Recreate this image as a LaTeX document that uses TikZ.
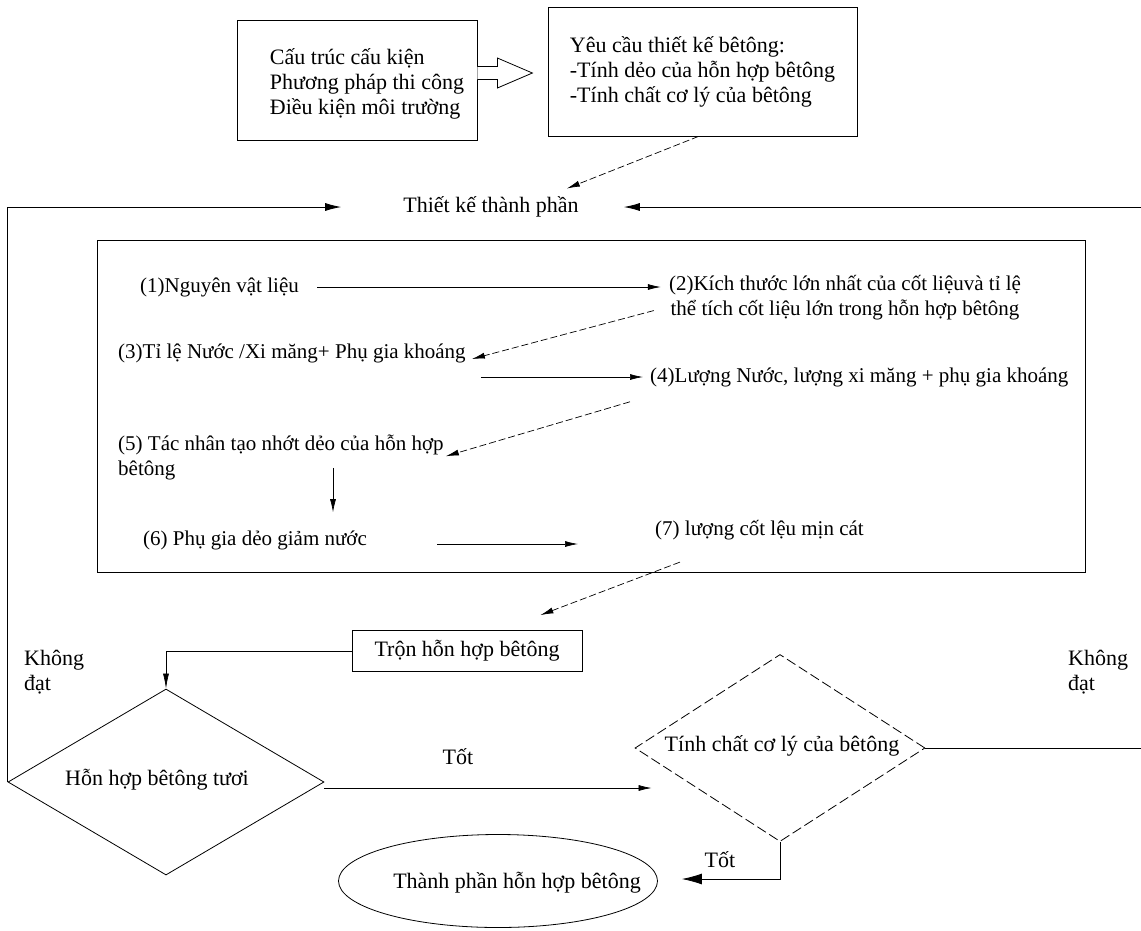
\documentclass[tikz,border=0pt]{standalone}
\usepackage{fontspec}
\setmainfont{Liberation Serif}
\usetikzlibrary{shapes.geometric,arrows.meta,calc}
\begin{document}
\begin{tikzpicture}[x=1pt,y=-1pt,
  txt/.style={inner sep=0pt, font=\fontsize{21}{25}\selectfont},
  btxt/.style={inner sep=0pt, font=\fontsize{22}{25}\selectfont},
  lw/.style={line width=0.8pt},
  box/.style={draw, lw},
  arr/.style={-{Latex[length=13pt,width=6pt]}, line width=0.7pt},
  arrthin/.style={-{Latex[length=15pt,width=6pt]}, line width=0.7pt},
  arrbig/.style={-{Latex[length=16pt,width=8pt]}, line width=0.8pt},
  arrhuge/.style={-{Latex[length=20pt,width=11pt]}, line width=0.8pt},
  darr/.style={arr, dash pattern=on 7pt off 3pt},
  dbox/.style={draw, lw, dash pattern=on 10pt off 4pt}]
\useasboundingbox[fill=white] (0,0) rectangle (1141,930);

% top boxes
\node[box, minimum width=240pt, minimum height=120pt] (b1) at (357,80) {};
\node[btxt, align=left] (b1t) at (367,84)
  {Cấu trúc cấu kiện\\Phương pháp thi công\\Điều kiện môi trường};
\node[box, btxt, minimum width=309pt, minimum height=129pt, align=left] (b2) at (702.5,71.5)
  {Yêu cầu thiết kế bêtông:\\-Tính dẻo của hỗn hợp bêtông\\-Tính chất cơ lý của bêtông};
% hollow arrow between them
\draw[lw, fill=white] ($(b1.east)+(0,-13.5)$) -- ++(20,0) -- ++(0,-8.5) -- ++(35,15) -- ++(-35,15) -- ++(0,-8.5) -- ++(-20,0);

\node[btxt] (tk) at (491,207) {Thiết kế thành phần};
\draw[darr] ($(b2.south)+(-4,0)$) -- ($(tk.north east)+(-12,-8)$);

% inner box
\node[box, minimum width=988pt, minimum height=332pt] (ib) at (591,406) {};
\node[txt, anchor=west] (n1) at (140,287) {(1)Nguyên vật liệu};
\node[txt, align=center] (n2) at (845,298) {(2)Kích thước lớn nhất của cốt liệuvà tỉ lệ\\thể tích cốt liệu lớn trong hỗn hợp bêtông};
\node[txt, anchor=west] (n3) at (118,353) {(3)Tỉ lệ Nước /Xi măng+ Phụ gia khoáng};
\node[txt, anchor=west] (n4) at (650,377) {(4)Lượng Nước, lượng xi măng + phụ gia khoáng};
\node[txt, anchor=west, align=left] (n5) at (118,457) {(5) Tác nhân tạo nhớt dẻo của hỗn hợp\\bêtông};
\node[txt, anchor=west] (n6) at (143,540) {(6) Phụ gia dẻo giảm nước};
\node[txt, anchor=west] (n7) at (655,530) {(7) lượng cốt lệu mịn cát};
\coordinate (X) at (333,0);

\draw[arr] ([xshift=18pt]n1.east) -- (n1.east -| {$(n2.west)+(-8,0)$});
\draw[darr] ($(n2.south west)+(-15,-10)$) -- ($(n3.east)+(6,6)$);
\draw[arr] ($(n3.east |- n4)+(15,0)$) -- ($(n4.west)+(-7,0)$);
\draw[darr] ($(n4.south west)+(-20,15)$) -- ($(n5.north east)+(2,22)$);
\draw[arr] ($(n5.south -| X)+(0,-12)$) -- ($(n6.north -| X)+(0,-18)$);
\draw[arr] ($(n6.east)+(70,4)$) -- ($(n6.east -| n7.west)+(-77,4)$);

% mixing box
\node[box, btxt, minimum width=230pt, minimum height=41pt] (tron) at (467,651) {Trộn hỗn hợp bêtông};
\draw[darr] ($(n7.south west)+(25,22)$) -- ($(tron.north east)+(-42,-15)$);

% diamonds
\node[box, diamond, minimum width=316pt, minimum height=186pt, inner sep=0pt] (d1) at (166,782) {};
\node[btxt] (d1t) at (157,780) {Hỗn hợp bêtông tươi};
\node[dbox, diamond, minimum width=290pt, minimum height=187pt, inner sep=0pt] (d2) at (780,748) {};
\node[btxt] (d2t) at (782,746) {Tính chất cơ lý của bêtông};

\draw[arrthin] (tron.west) -| (d1.north);
\draw[arr] ($(d1.east)+(0,6)$) -- ($(d1.east -| d2.west)+(17,6)$);
\node[btxt] (tot1) at (458,757) {Tốt};

% ellipse
\node[box, ellipse, minimum width=319pt, minimum height=93pt, inner sep=0pt] (el) at (498,881) {};
\node[btxt] (elt) at (517,883) {Thành phần hỗn hợp bêtông};
\draw[arrhuge] (d2.south) |- ($(el.east)+(24,-2)$);
\node[btxt] (tot2) at (720,860) {Tốt};

% feedback loops
\node[btxt, anchor=north west, align=left] (kd1) at (24,650) {Không\\đạt};
\node[btxt, anchor=north west, align=left] (kd2) at (1068,650) {Không\\đạt};
\coordinate (R) at (1143,0);
\draw[arrbig] (d1.west) -- (d1.west |- tk) -- ($(tk.west)+(-62,0)$);
\draw[arrbig] (d2.east) -- (d2.east -| R) -- (tk -| R) -- ($(tk.east)+(45,0)$);
\end{tikzpicture}
\end{document}
